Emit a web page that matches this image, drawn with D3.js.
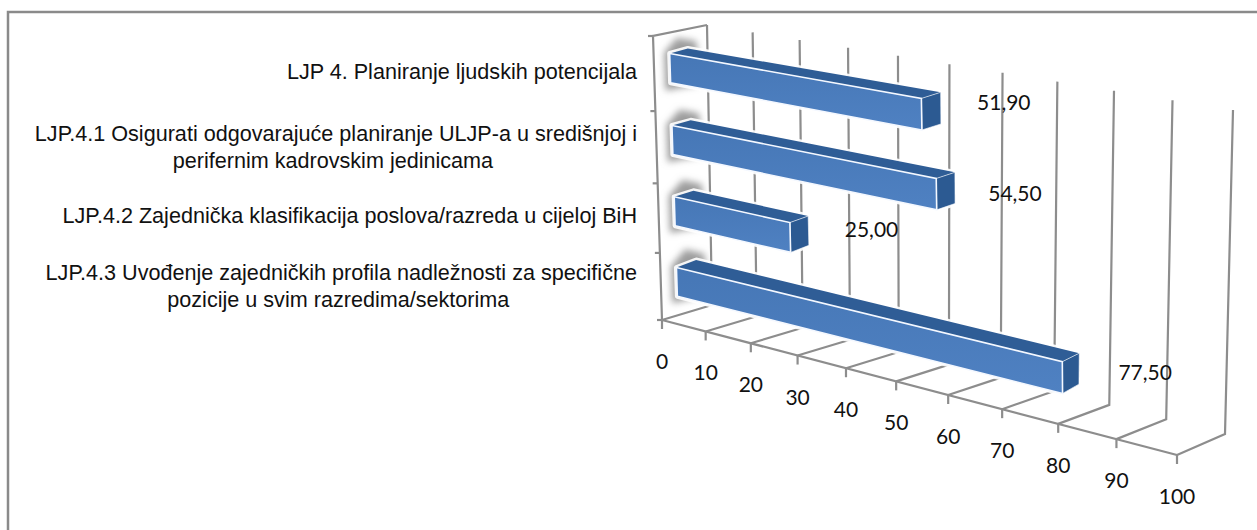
<!DOCTYPE html>
<html>
<head>
<meta charset="utf-8">
<script src="https://cdn.jsdelivr.net/npm/d3@7"></script>
<style>
  html, body { margin: 0; background: #fff; }
  svg { display: block; }
  .cat { font-family: "Liberation Sans", Arial, sans-serif; font-size: 21.6px; fill: #111; }
  .num { font-family: Lato, sans-serif; font-size: 21px; fill: #111; text-anchor: middle; }
  .grid { fill: none; stroke: #8d8d8d; stroke-width: 2.2; }
</style>
</head>
<body>
<svg width="1257" height="530"></svg>
<script>
const categories = ['LJP 4', 'LJP.4.1', 'LJP.4.2', 'LJP.4.3'];
const categoryLines = [
  ['LJP 4. Planiranje ljudskih potencijala'],
  ['LJP.4.1 Osigurati odgovarajuće planiranje ULJP-a u središnjoj i', 'perifernim kadrovskim jedinicama'],
  ['LJP.4.2 Zajednička klasifikacija poslova/razreda u cijeloj BiH'],
  ['LJP.4.3 Uvođenje zajedničkih profila nadležnosti za specifične', 'pozicije u svim razredima/sektorima']
];
const values = [51.9, 54.5, 25, 77.5];
const valueLabels = ['51,90', '54,50', '25,00', '77,50'];
const ticks = [0, 10, 20, 30, 40, 50, 60, 70, 80, 90, 100];

// the value labels sit a little off the bar ends, each by its own amount
const labelDx = [63, 60, 63, 66];
const labelDy = [-7, 4, -3, 2];

const svg = d3.select('svg');

// maps the unit square onto a 4 sided shape, that gives the 3d perspective
function quad(p00, p10, p01, p11) {
  let dx1 = p10[0] - p11[0], dx2 = p01[0] - p11[0], sx = p00[0] - p10[0] + p11[0] - p01[0];
  let dy1 = p10[1] - p11[1], dy2 = p01[1] - p11[1], sy = p00[1] - p10[1] + p11[1] - p01[1];
  let det = dx1 * dy2 - dx2 * dy1;
  let g = (sx * dy2 - dx2 * sy) / det;
  let h = (dx1 * sy - sx * dy1) / det;
  let a = p10[0] - p00[0] + g * p10[0], b = p01[0] - p00[0] + h * p01[0];
  let d = p10[1] - p00[1] + g * p10[1], e = p01[1] - p00[1] + h * p01[1];
  return (u, t) => {
    let w = g * u + h * t + 1;
    return [(a * u + b * t + p00[0]) / w, (d * u + e * t + p00[1]) / w];
  };
}

const floor = quad([662, 320], [1177, 455], [712, 305], [1225, 434]);
const wall = quad([707, 25], [1233, 110], [712, 305], [1225, 434]);
const side = quad([653, 36], [707, 25], [662, 320], [712, 305]);
const barFront = quad([669, 32], [1192, 122], [678, 317], [1192, 450]);
const barBack = quad([687, 27], [1217, 115], [698, 308], [1208, 440]);

const x = d3.scaleLinear().domain([0, 100]).range([0, 1]);
const y = d3.scaleBand().domain(categories).range([0, 1]).paddingInner(0.593).paddingOuter(0.2965);
const line = d3.line();
const closed = d3.line().curve(d3.curveLinearClosed);

// outer frame
svg.append('rect').attr('x', 8).attr('y', 12).attr('width', 1260).attr('height', 530)
  .attr('fill', 'none').attr('stroke', '#8a8a8a').attr('stroke-width', 2.5);

let defs = svg.append('defs');
defs.append('filter').attr('id', 'glow').attr('x', '-50%').attr('y', '-50%').attr('width', '200%').attr('height', '200%')
  .append('feGaussianBlur').attr('stdDeviation', 3.5);
let front = defs.append('linearGradient').attr('id', 'front').attr('x1', 0).attr('x2', 0).attr('y1', 0).attr('y2', 1);
front.append('stop').attr('offset', 0).attr('stop-color', '#4677b6');
front.append('stop').attr('offset', 1).attr('stop-color', '#4f81c2');

// walls and floor
let grid = svg.append('g');
ticks.forEach(t => {
  let u = x(t);
  grid.append('path').attr('class', 'grid').attr('d', line([wall(u, 0), wall(u, 1), floor(u, 0)]));
  grid.append('path').attr('class', 'grid').attr('d', line([floor(u, 0), [floor(u, 0)[0], floor(u, 0)[1] + 9]]));
});
grid.append('path').attr('class', 'grid').attr('d', line([floor(0, 0), floor(1, 0)]));
grid.append('path').attr('class', 'grid').attr('d', line([side(1, 0), side(0, 0), side(0, 1)]));
d3.range(0, 5).forEach(i => {
  let p = side(0, i / 4);
  grid.append('path').attr('class', 'grid').attr('d', line([[p[0] - 5, p[1]], p]));
});

// bars
categories.forEach((c, i) => {
  let t0 = y(c), t1 = y(c) + y.bandwidth(), u = x(values[i]);
  let g = svg.append('g');
  g.append('path')
    .attr('d', closed([barBack(-0.024, t0 - 0.03), barBack(0.02, t0 - 0.03), barBack(0.02, t1 + 0.018), barFront(-0.012, t1 + 0.03), barFront(-0.012, t0)]))
    .attr('fill', '#9c9c9c').attr('filter', 'url(#glow)');
  // white behind the bar so the grid stops short of it
  g.append('path')
    .attr('d', closed([barFront(0, t0), barBack(0, t0), barBack(u, t0), barBack(u, t1), barFront(u, t1), barFront(0, t1)]))
    .attr('fill', '#fff').attr('stroke', '#fff').attr('stroke-width', 5).attr('stroke-linejoin', 'round')
    .attr('opacity', 0.9);
  g.append('path')
    .attr('d', closed([barFront(0, t0), barBack(0, t0), barBack(u, t0), barFront(u, t0)]))
    .attr('fill', '#2f5d96');
  g.append('path')
    .attr('d', closed([barFront(u, t0), barBack(u, t0), barBack(u, t1), barFront(u, t1)]))
    .attr('fill', '#2c5a92').attr('stroke', '#fff').attr('stroke-width', 0.6);
  g.append('path')
    .attr('d', closed([barFront(0, t0), barFront(u, t0), barFront(u, t1), barFront(0, t1)]))
    .attr('fill', 'url(#front)').attr('stroke', '#f4f8ff').attr('stroke-width', 1.6);
  let e = barBack(u, (t0 + t1) / 2);
  svg.append('text').attr('class', 'num')
    .attr('x', e[0] + labelDx[i]).attr('y', e[1] + 9 + labelDy[i])
    .text(valueLabels[i]);
});

// axis numbers
ticks.forEach(t => {
  let p = floor(x(t), 0);
  svg.append('text').attr('class', 'num').attr('x', p[0]).attr('y', p[1] + 49).text(t);
});

// category labels, the first line ends at the axis and the second is centred under it
categories.forEach((c, i) => {
  let lines = categoryLines[i];
  let mid = side(0, y(c) + y.bandwidth() / 2)[1] + 1;
  let first = svg.append('text').attr('class', 'cat').attr('text-anchor', 'end')
    .attr('x', 637).attr('y', mid + 4 - (lines.length - 1) * 12).text(lines[0]);
  if (lines.length > 1) {
    let w = first.node().getComputedTextLength();
    svg.append('text').attr('class', 'cat').attr('text-anchor', 'middle')
      .attr('x', 637 - w / 2 - 3).attr('y', mid + 4 + 15).text(lines[1]);
  }
});
</script>
</body>
</html>
